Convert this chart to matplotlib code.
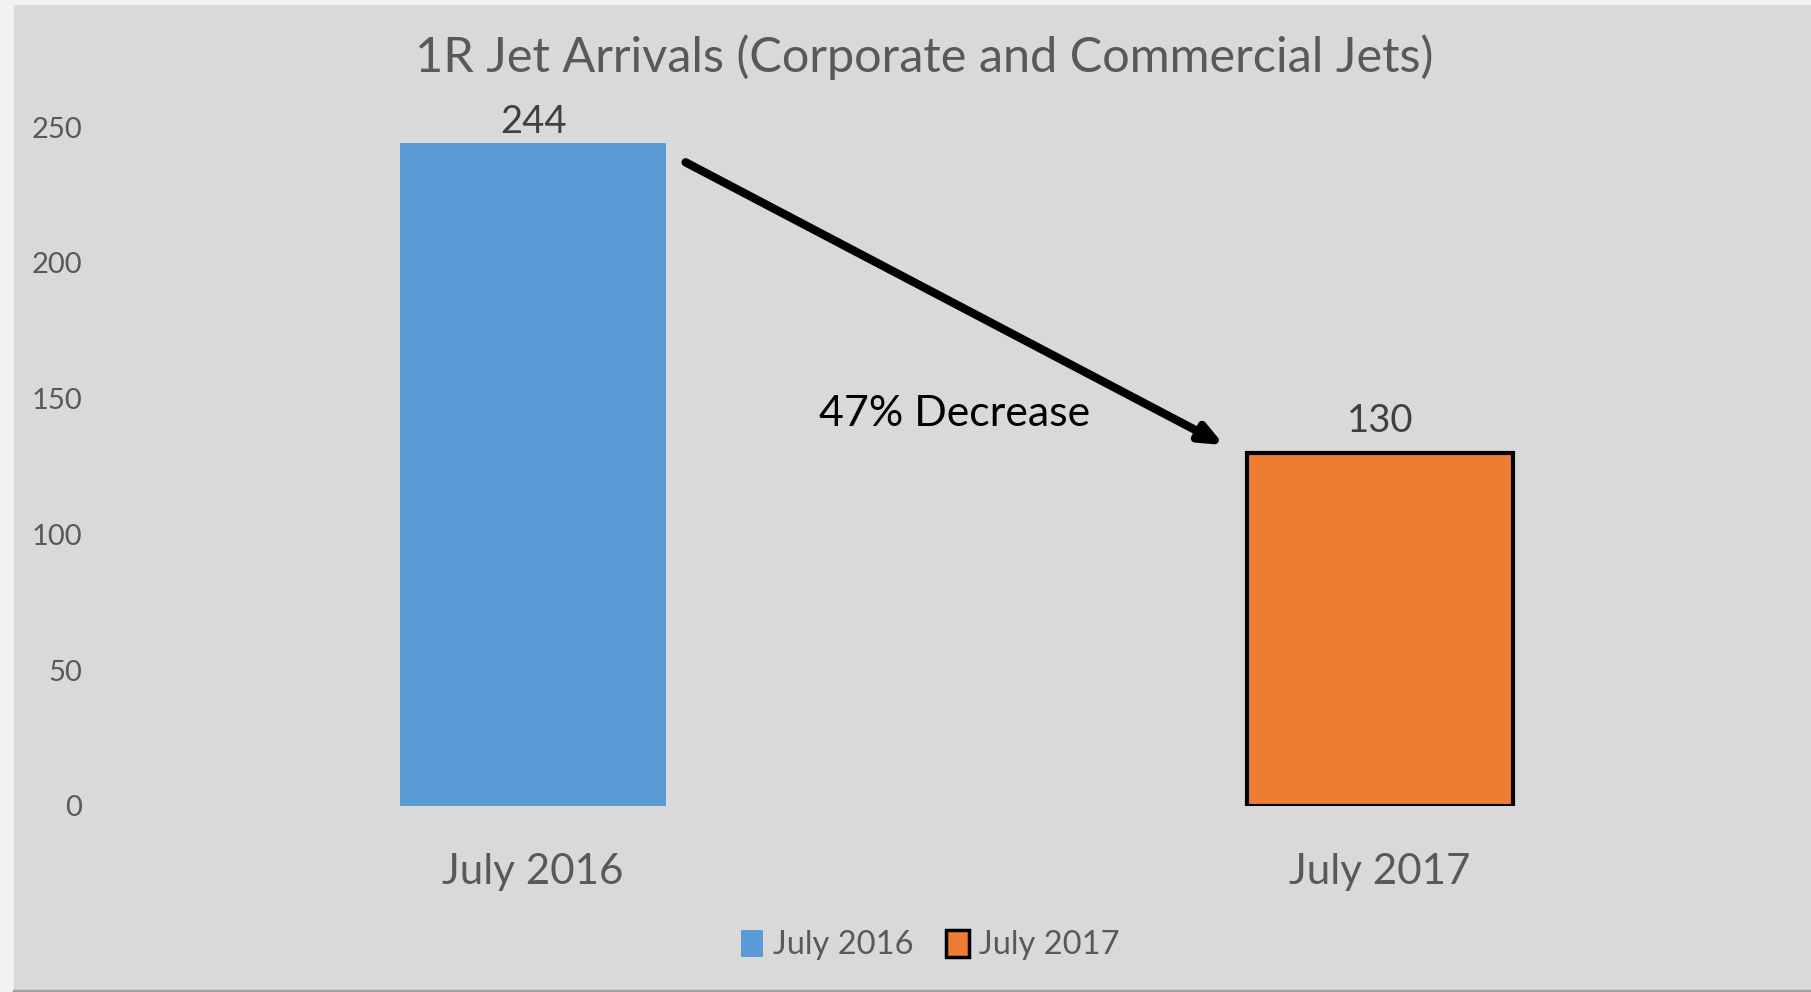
import matplotlib
matplotlib.use("Agg")
import matplotlib.pyplot as plt
from matplotlib.patches import Rectangle, Patch

categories = ["July 2016", "July 2017"]
values = [244, 130]
bar_colors = ["#5B9BD5", "#ED7D31"]
edge_colors = ["none", "black"]
yticks = [0, 50, 100, 150, 200, 250]
title = "1R Jet Arrivals (Corporate and Commercial Jets)"
annotation_text = "47% Decrease"
label_offsets_pt = [7.2, 15.0]

plt.rcParams['font.family'] = ['Lato', 'DejaVu Sans']

W, H = 1811, 992
fig = plt.figure(figsize=(W / 100, H / 100), dpi=100)
fig.patch.set_facecolor("#F2F2F2")

# gray chart panel
fig.patches.append(Rectangle((14 / W, 0.0), 1.0, 1 - 5 / H, transform=fig.transFigure,
                             facecolor="#D9D9D9", edgecolor="none", zorder=-10))
fig.lines.append(plt.Line2D([14 / W, 1.0], [1.5 / H, 1.5 / H], transform=fig.transFigure,
                            color="#A0A0A0", lw=2.5, zorder=-9))

left, right, top, bottom = 110, 1803, 127, 806
ax = fig.add_axes([left / W, 1 - bottom / H, (right - left) / W, (bottom - top) / H])
ax.set_facecolor("none")
ax.set_zorder(1)

x = list(range(len(categories)))
bars = ax.bar(x, values, width=0.314, color=bar_colors, edgecolor=edge_colors,
              linewidth=3, zorder=3)
bars[0].set_linewidth(0)

for xi, v, off in zip(x, values, label_offsets_pt):
    ax.annotate(str(v), xy=(xi, v), xytext=(0, off), textcoords="offset points",
                ha="center", va="baseline", fontsize=27.5, color="#404040",
                annotation_clip=False)

ax.set_xlim(-0.5, 1.5)
ax.set_ylim(0, 250)
ax.set_yticks(yticks)
ax.set_yticklabels([str(t) for t in yticks], fontsize=21, color="#595959")
ax.set_xticks(x)
ax.set_xticklabels(categories, fontsize=30.3, color="#595959")
ax.tick_params(axis="y", length=0, pad=20)
ax.tick_params(axis="x", length=0, pad=34)
for s in ax.spines.values():
    s.set_visible(False)

fig.text(924 / W, 1 - 57 / H, title, ha="center", va="center", fontsize=35, color="#595959")

ax.annotate("", xy=(0.816, 132.9), xytext=(0.180, 237.0),
            arrowprops=dict(arrowstyle="-|>,head_length=1.3,head_width=0.55",
                            color="black", lw=6, shrinkA=0, shrinkB=0), zorder=5)
ax.text(0.498, 144.5, annotation_text, ha="center", va="center", fontsize=30.9, color="black")

handles = [Patch(facecolor=bar_colors[0], edgecolor="none"),
           Patch(facecolor=bar_colors[1], edgecolor="black", linewidth=2.5)]
fig.legend(handles, categories, loc="center", bbox_to_anchor=(930 / W, 1 - 945 / H),
           ncol=2, frameon=False, fontsize=23.5, labelcolor="#595959",
           handlelength=0.7, handleheight=0.9, handletextpad=0.3, columnspacing=1.0)

fig.savefig("out.png", dpi=100, facecolor=fig.get_facecolor())
